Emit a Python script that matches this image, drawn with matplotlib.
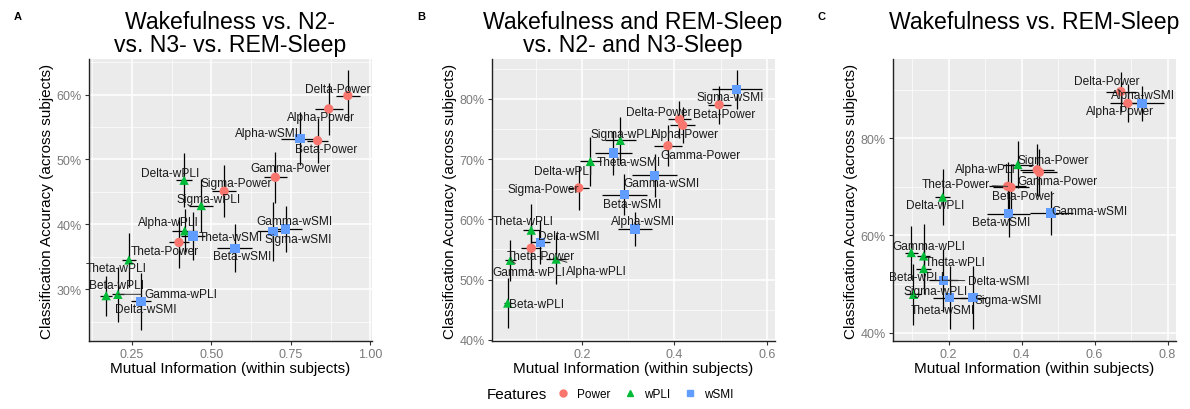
import matplotlib.pyplot as plt
from matplotlib.lines import Line2D
from matplotlib.ticker import FuncFormatter

plt.rcParams['font.family'] = ['Liberation Sans', 'DejaVu Sans']

bands = ["Delta", "Theta", "Alpha", "Sigma", "Beta", "Gamma"]
features = ["Power", "wPLI", "wSMI"]

# panel A: wake vs N2 vs N3 vs REM
a_power_mi = [0.929, 0.398, 0.869, 0.540, 0.834, 0.701]
a_power_mi_err = [0.038, 0.032, 0.044, 0.037, 0.034, 0.037]
a_power_acc = [59.85, 37.2, 57.8, 45.1, 52.9, 47.25]
a_power_acc_err = [3.9, 3.9, 4.0, 4.0, 3.5, 3.9]
a_wpli_mi = [0.414, 0.2405, 0.416, 0.468, 0.169, 0.206]
a_wpli_mi_err = [0.026, 0.021, 0.039, 0.037, 0.018, 0.02]
a_wpli_acc = [46.8, 34.5, 39.0, 42.9, 29.0, 29.2]
a_wpli_acc_err = [4.2, 4.1, 3.3, 4.1, 3.1, 4.2]
a_wsmi_mi = [0.279, 0.442, 0.779, 0.734, 0.574, 0.694]
a_wsmi_mi_err = [0.032, 0.039, 0.060, 0.052, 0.055, 0.05]
a_wsmi_acc = [28.1, 38.2, 53.2, 39.3, 36.3, 38.9]
a_wsmi_acc_err = [4.4, 3.7, 4.1, 3.6, 3.7, 4.5]

# panel B: wake + REM vs N2 + N3
b_power_mi = [0.411, 0.090, 0.418, 0.193, 0.497, 0.386]
b_power_mi_err = [0.024, 0.022, 0.027, 0.023, 0.025, 0.03]
b_power_acc = [76.6, 55.2, 75.6, 65.2, 79.0, 72.2]
b_power_acc_err = [3.1, 3.9, 3.0, 3.7, 3.2, 3.4]
b_wpli_mi = [0.218, 0.090, 0.144, 0.283, 0.039, 0.045]
b_wpli_mi_err = [0.023, 0.018, 0.022, 0.034, 0.009, 0.011]
b_wpli_acc = [69.6, 58.2, 53.4, 73.1, 46.1, 53.2]
b_wpli_acc_err = [4.0, 4.3, 4.2, 3.9, 4.2, 3.4]
b_wsmi_mi = [0.110, 0.268, 0.315, 0.535, 0.292, 0.357]
b_wsmi_mi_err = [0.02, 0.04, 0.036, 0.054, 0.048, 0.048]
b_wsmi_acc = [56.2, 71.0, 58.4, 81.55, 64.1, 67.3]
b_wsmi_acc_err = [3.7, 3.7, 2.8, 3.2, 3.4, 3.6]

# panel C: wake vs REM
c_power_mi = [0.672, 0.362, 0.691, 0.443, 0.371, 0.449]
c_power_mi_err = [0.041, 0.05, 0.048, 0.046, 0.05, 0.048]
c_power_acc = [89.6, 70.1, 87.2, 73.5, 69.9, 73.0]
c_power_acc_err = [4.1, 5.1, 3.9, 5.3, 4.9, 4.8]
c_wpli_mi = [0.184, 0.132, 0.390, 0.104, 0.132, 0.098]
c_wpli_mi_err = [0.02, 0.018, 0.041, 0.02, 0.02, 0.018]
c_wpli_acc = [67.9, 55.8, 74.6, 47.9, 53.2, 56.5]
c_wpli_acc_err = [5.8, 6.5, 4.9, 6.3, 5.3, 5.5]
c_wsmi_mi = [0.186, 0.203, 0.730, 0.267, 0.365, 0.481]
c_wsmi_mi_err = [0.04, 0.046, 0.059, 0.036, 0.059, 0.059]
c_wsmi_acc = [50.8, 47.2, 87.2, 47.2, 64.5, 64.6]
c_wsmi_acc_err = [6.5, 6.5, 3.6, 6.5, 4.9, 4.6]

colors = {"Power": "#F8766D", "wPLI": "#00BA38", "wSMI": "#619CFF"}
markers = {"Power": "o", "wPLI": "^", "wSMI": "s"}

# label offsets (pixels) - roughly where ggrepel put them
a_offsets = {
    "Delta-Power": (-10, 7), "Alpha-Power": (-8, -8), "Alpha-wSMI": (-33, 6),
    "Beta-Power": (8, -8), "Gamma-Power": (15, 9), "Sigma-Power": (12, 8),
    "Sigma-wPLI": (7, 7), "Delta-wPLI": (-14, 7), "Alpha-wPLI": (-16, 9),
    "Theta-wSMI": (38, -1), "Theta-Power": (-14, -9), "Beta-wSMI": (7, -8),
    "Gamma-wSMI": (21, 10), "Sigma-wSMI": (12, -10), "Theta-wPLI": (-13, -8),
    "Beta-wPLI": (10, 11), "Gamma-wPLI": (63, 0), "Delta-wSMI": (5, -8),
}
b_offsets = {
    "Sigma-wSMI": (-6, -8), "Beta-Power": (5, -9), "Delta-Power": (-21, 7),
    "Alpha-Power": (2, -9), "Gamma-Power": (33, -9), "Sigma-wPLI": (2, 6),
    "Theta-wSMI": (15, -9), "Delta-wPLI": (-27, -10), "Sigma-Power": (-36, -1),
    "Gamma-wSMI": (7, -8), "Beta-wSMI": (8, -9), "Alpha-wSMI": (8, 8),
    "Theta-wPLI": (-8, 9), "Delta-wSMI": (28, 6), "Theta-Power": (9, -8),
    "Gamma-wPLI": (18, -12), "Alpha-wPLI": (40, -12), "Beta-wPLI": (29, -1),
}
c_offsets = {
    "Delta-Power": (-14, 11), "Alpha-wSMI": (1, 8), "Alpha-Power": (-8, -8),
    "Sigma-Power": (16, 10), "Alpha-wPLI": (-32, -4), "Gamma-Power": (18, -9),
    "Theta-Power": (-52, 2), "Beta-Power": (12, -9), "Delta-wPLI": (-7, -8),
    "Gamma-wSMI": (38, 2), "Beta-wSMI": (-8, -8), "Gamma-wPLI": (18, 7),
    "Theta-wPLI": (31, -6), "Beta-wPLI": (-7, -8), "Delta-wSMI": (55, -1),
    "Sigma-wPLI": (22, 3), "Sigma-wSMI": (35, -2), "Theta-wSMI": (-7, -12),
}
segments = {
    "A": ["Gamma-wPLI"],
    "B": ["Gamma-wPLI", "Alpha-wPLI"],
    "C": ["Delta-Power", "Theta-Power", "Delta-wSMI"],
}

panels = [
    dict(letter="A", title="Wakefulness vs. N2-\nvs. N3- vs. REM-Sleep",
         data={"Power": (a_power_mi, a_power_mi_err, a_power_acc, a_power_acc_err),
               "wPLI": (a_wpli_mi, a_wpli_mi_err, a_wpli_acc, a_wpli_acc_err),
               "wSMI": (a_wsmi_mi, a_wsmi_mi_err, a_wsmi_acc, a_wsmi_acc_err)},
         offsets=a_offsets, xlim=(0.115, 1.005), ylim=(22, 65.5),
         xt=[0.25, 0.5, 0.75, 1.0], xm=[0.125, 0.375, 0.625, 0.875],
         yt=[30, 40, 50, 60], ym=[25, 35, 45, 55, 65], xfmt="{:.2f}",
         left=89),
    dict(letter="B", title="Wakefulness and REM-Sleep\nvs. N2- and N3-Sleep",
         data={"Power": (b_power_mi, b_power_mi_err, b_power_acc, b_power_acc_err),
               "wPLI": (b_wpli_mi, b_wpli_mi_err, b_wpli_acc, b_wpli_acc_err),
               "wSMI": (b_wsmi_mi, b_wsmi_mi_err, b_wsmi_acc, b_wsmi_acc_err)},
         offsets=b_offsets, xlim=(0.005, 0.618), ylim=(39.8, 86.6),
         xt=[0.2, 0.4, 0.6], xm=[0.1, 0.3, 0.5],
         yt=[40, 50, 60, 70, 80], ym=[45, 55, 65, 75, 85], xfmt="{:.1f}",
         left=492),
    dict(letter="C", title="Wakefulness vs. REM-Sleep",
         data={"Power": (c_power_mi, c_power_mi_err, c_power_acc, c_power_acc_err),
               "wPLI": (c_wpli_mi, c_wpli_mi_err, c_wpli_acc, c_wpli_acc_err),
               "wSMI": (c_wsmi_mi, c_wsmi_mi_err, c_wsmi_acc, c_wsmi_acc_err)},
         offsets=c_offsets, xlim=(0.048, 0.823), ylim=(38.3, 96.3),
         xt=[0.2, 0.4, 0.6, 0.8], xm=[0.1, 0.3, 0.5, 0.7],
         yt=[40, 60, 80], ym=[50, 70, 90], xfmt="{:.1f}",
         left=893),
]

W, H = 1190, 410
fig = plt.figure(figsize=(W / 100, H / 100), dpi=100)

for p in panels:
    ax = fig.add_axes([p["left"] / W, 68 / H, 283 / W, 282 / H])
    ax.set_facecolor("#EBEBEB")
    ax.set_xlim(*p["xlim"])
    ax.set_ylim(*p["ylim"])
    ax.set_xticks(p["xt"])
    ax.set_xticks(p["xm"], minor=True)
    ax.set_yticks(p["yt"])
    ax.set_yticks(p["ym"], minor=True)
    fmt = p["xfmt"]
    ax.xaxis.set_major_formatter(FuncFormatter(lambda v, pos, f=fmt: f.format(v)))
    ax.yaxis.set_major_formatter(FuncFormatter(lambda v, pos: f"{v:.0f}%"))
    ax.grid(True, which="major", color="white", lw=1.1)
    ax.grid(True, which="minor", color="white", lw=0.5)
    ax.set_axisbelow(True)
    for s in ["top", "right"]:
        ax.spines[s].set_visible(False)
    for s in ["left", "bottom"]:
        ax.spines[s].set_color("#222222")
        ax.spines[s].set_linewidth(1.0)
    ax.tick_params(which="major", direction="out", length=3, color="#333333",
                   labelsize=9, labelcolor="#7a7a7a", pad=2)
    ax.tick_params(which="minor", length=0)
    ax.set_xlabel("Mutual Information (within subjects)", fontsize=11, labelpad=1)
    ax.set_ylabel("Classification Accuracy (across subjects)", fontsize=11, labelpad=2)
    # titles hang from the top of the figure, like ggplot's
    fig.text((p["left"] + 141) / W, 1 - 11 / H, p["title"], fontsize=16.6,
             ha="center", va="top", linespacing=1.0)
    fig.text((p["left"] - 75) / W, 1 - 17 / H, p["letter"], fontsize=8,
             fontweight="bold", ha="left", va="center")

    for feat in features:
        mi, mi_err, acc, acc_err = p["data"][feat]
        ax.errorbar(mi, acc, xerr=mi_err, yerr=acc_err, fmt="none",
                    ecolor="black", elinewidth=0.9, capsize=0, zorder=2)
        ax.scatter(mi, acc, marker=markers[feat], s=45, color=colors[feat],
                   edgecolors="none", zorder=3)
        for i, band in enumerate(bands):
            name = f"{band}-{feat}"
            dx, dy = p["offsets"][name]
            arrow = None
            if name in segments[p["letter"]]:
                arrow = dict(arrowstyle="-", color="#333333", lw=0.7,
                             shrinkA=0, shrinkB=0)
            ax.annotate(name, (mi[i], acc[i]), xytext=(dx, dy),
                        textcoords="offset pixels", ha="center", va="center",
                        fontsize=8.6, color="#1a1a1a", zorder=4,
                        arrowprops=arrow)

# legend under the middle panel
fig.text(487 / W, 1 - 395 / H, "Features", fontsize=11, ha="left", va="center")
handles = [Line2D([], [], marker=markers[f], color=colors[f], ls="none",
                  markersize=5) for f in features]
fig.legend(handles, features, loc="center left",
           bbox_to_anchor=(554 / W, 1 - 395 / H), ncol=3, frameon=False,
           fontsize=8.5, handletextpad=0.45, columnspacing=0.9,
           handlelength=1.5, borderpad=0, borderaxespad=0)

fig.savefig("out.png", dpi=100)
